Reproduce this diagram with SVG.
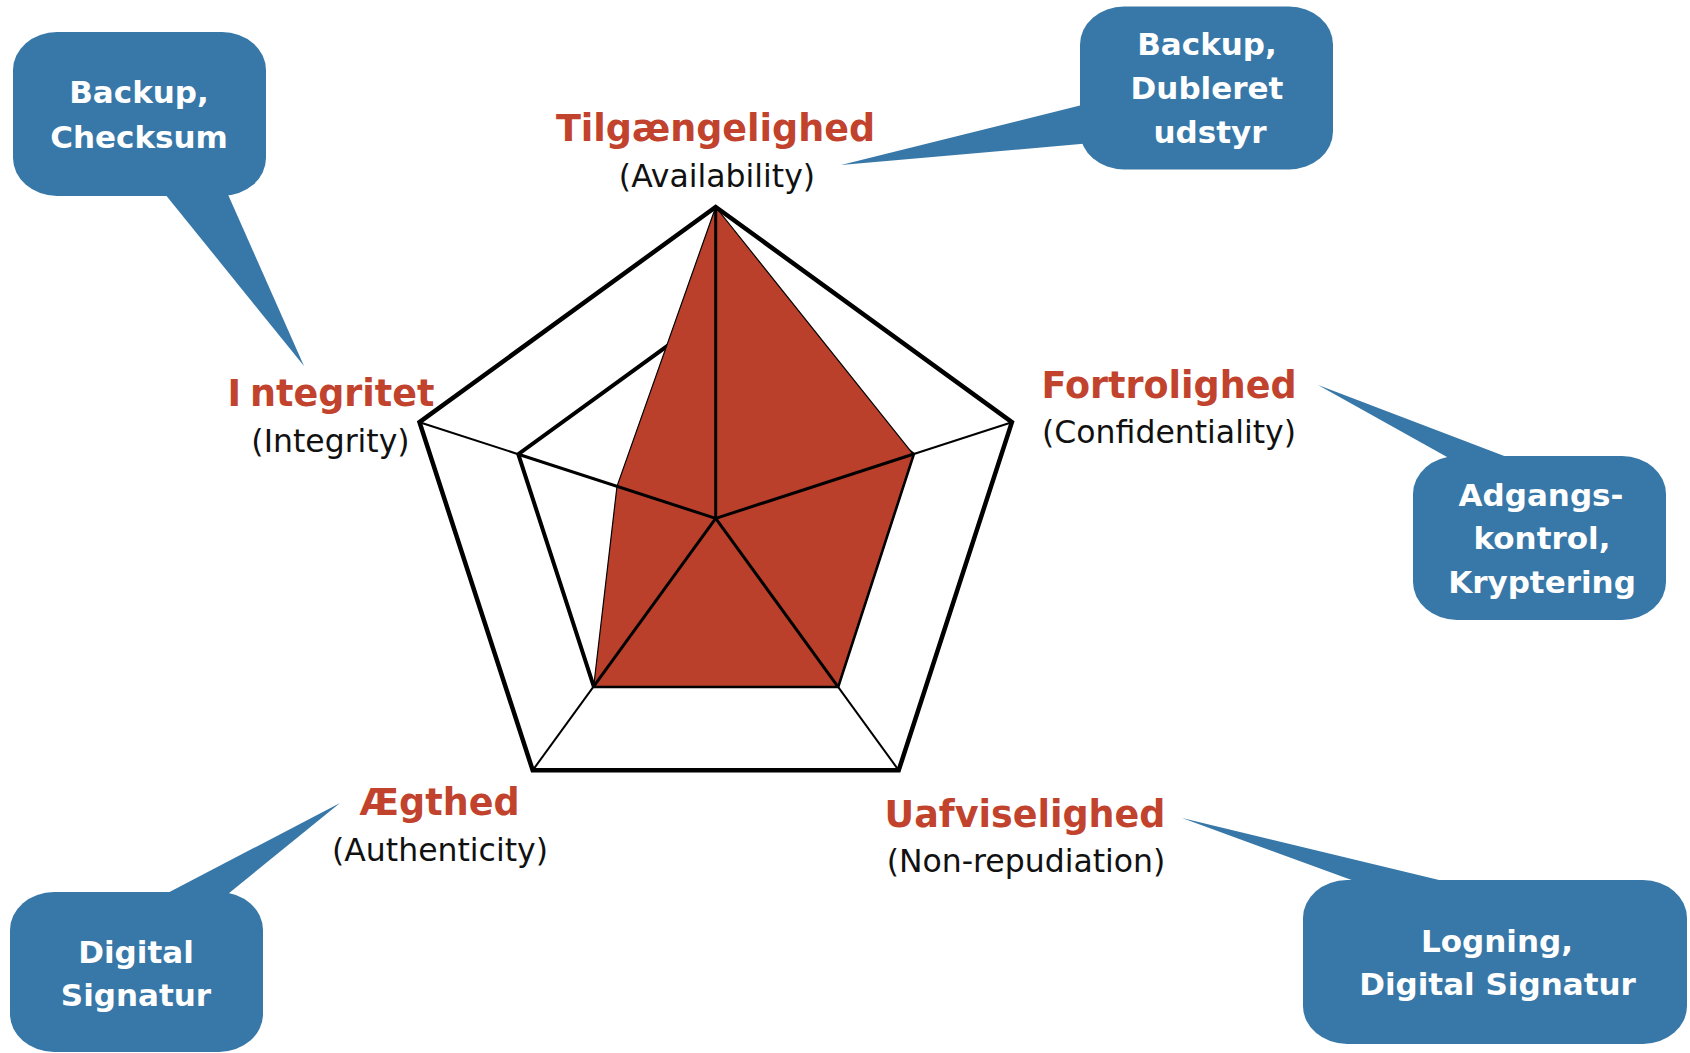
<svg xmlns="http://www.w3.org/2000/svg" width="1690" height="1053" viewBox="0 0 1690 1053">
<style>
.bub{fill:#3878A8}
.bt{font-family:"DejaVu Sans",Verdana,sans-serif;font-weight:bold;font-size:31px;fill:#ffffff;text-anchor:middle}
.lab{font-family:"DejaVu Sans",Verdana,sans-serif;font-weight:bold;font-size:36.5px;fill:#C1432D;text-anchor:middle}
.sub{font-family:"DejaVu Sans",Verdana,sans-serif;font-size:31.5px;fill:#111111;text-anchor:middle}
.outer{fill:none;stroke:#000;stroke-width:4.5;stroke-linejoin:miter}
.inner{fill:none;stroke:#000;stroke-width:4}
.spk{stroke:#000;stroke-width:3}
.spko{stroke:#000;stroke-width:2}
</style>
<rect width="1690" height="1053" fill="#ffffff"/>
<g id="chart">
<polygon class="inner" points="715.7,310.8 913.1,454.2 837.7,686.3 593.7,686.3 518.3,454.2"/>
<polygon fill="#BA402B" stroke="#000" stroke-width="1.2" points="715.7,207 913.1,454.2 837.7,686.3 593.7,686.3 617,486.3"/>
<g id="spokes">
<line class="spk" x1="715.7" y1="518.4" x2="715.7" y2="207"/>
<line class="spk" x1="715.7" y1="518.4" x2="913.1" y2="454.2"/>
<line class="spk" x1="715.7" y1="518.4" x2="837.7" y2="686.3"/>
<line class="spk" x1="715.7" y1="518.4" x2="593.7" y2="686.3"/>
<line class="spk" x1="715.7" y1="518.4" x2="518.3" y2="454.2"/>
<line class="spko" x1="913.1" y1="454.2" x2="1011.9" y2="422.2"/>
<line class="spko" x1="837.7" y1="686.3" x2="898.7" y2="770.3"/>
<line class="spko" x1="593.7" y1="686.3" x2="532.7" y2="770.3"/>
<line class="spko" x1="518.3" y1="454.2" x2="419.5" y2="422.2"/>
</g>
<polygon class="outer" points="715.7,207 1011.9,422.2 898.7,770.3 532.7,770.3 419.5,422.2"/>
</g>
<g id="labels">
<text class="lab" x="715.5" y="141">Tilgængelighed</text>
<text class="sub" x="717" y="187">(Availability)</text>
<text class="lab" x="331" y="406"><tspan>I</tspan><tspan dx="9">ntegritet</tspan></text>
<text class="sub" x="330.5" y="452">(Integrity)</text>
<text class="lab" x="1169" y="398">Fortrolighed</text>
<text class="sub" x="1169" y="443">(Confidentiality)</text>
<text class="lab" x="439.5" y="815">Ægthed</text>
<text class="sub" x="440" y="861">(Authenticity)</text>
<text class="lab" x="1025" y="827">Uafviselighed</text>
<text class="sub" x="1026" y="872">(Non-repudiation)</text>
</g>
<g id="bubble-integrity">
<rect class="bub" x="13" y="32" width="253" height="164" rx="44" ry="38"/>
<polygon class="bub" points="161.7,190 226,190 304,366"/>
<text class="bt" x="139" y="103">Backup,</text>
<text class="bt" x="139" y="148">Checksum</text>
</g>
<g id="bubble-availability">
<rect class="bub" x="1080" y="6.5" width="253" height="163" rx="44" ry="38"/>
<polygon class="bub" points="1086,104 1086,143.5 841,165"/>
<text class="bt" x="1207" y="55" font-size="30">Backup,</text>
<text class="bt" x="1207" y="99" font-size="30">Dubleret</text>
<text class="bt" x="1210" y="143" font-size="30">udstyr</text>
</g>
<g id="bubble-confidentiality">
<rect class="bub" x="1413" y="456" width="253" height="164" rx="44" ry="38"/>
<polygon class="bub" points="1456,462 1520,462 1318,385"/>
<text class="bt" x="1541" y="506">Adgangs-</text>
<text class="bt" x="1542" y="549">kontrol,</text>
<text class="bt" x="1542" y="593">Kryptering</text>
</g>
<g id="bubble-authenticity">
<rect class="bub" x="10" y="892" width="253" height="160" rx="44" ry="38"/>
<polygon class="bub" points="158,898 223,898 340,803"/>
<text class="bt" x="136" y="963">Digital</text>
<text class="bt" x="136" y="1006">Signatur</text>
</g>
<g id="bubble-nonrepudiation">
<rect class="bub" x="1303" y="880" width="384" height="164" rx="44" ry="38"/>
<polygon class="bub" points="1368,886 1464,886 1182,818"/>
<text class="bt" x="1497" y="952">Logning,</text>
<text class="bt" x="1497.5" y="995">Digital Signatur</text>
</g>
</svg>
